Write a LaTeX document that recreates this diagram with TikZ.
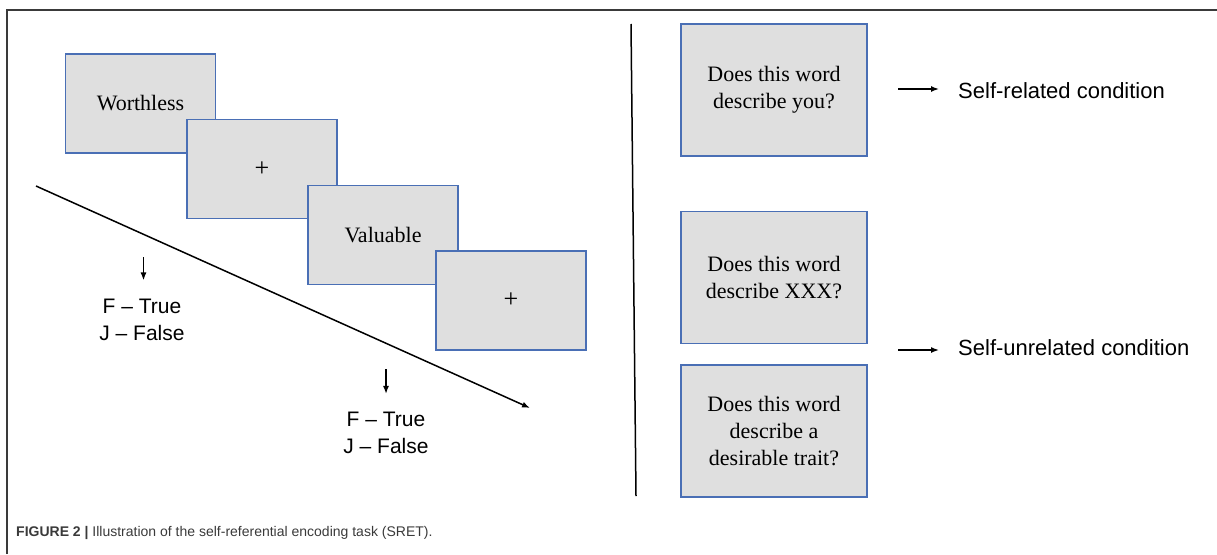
\documentclass[tikz,border=0pt]{standalone}
\usepackage{fontspec}
\setmainfont{Liberation Serif}
\setsansfont{Liberation Sans}
\usetikzlibrary{arrows.meta}
\definecolor{slidegray}{HTML}{DFDFDF}
\definecolor{slideblue}{HTML}{4A6FB5}
\definecolor{framegray}{HTML}{3A3A3A}
\begin{document}
\begin{tikzpicture}[x=1pt, y=-1pt,
    slide/.style={draw=slideblue, fill=slidegray, line width=1.3pt, minimum width=150pt, minimum height=99pt, inner sep=0pt, font=\fontsize{22}{27}\selectfont},
    question/.style={slide, minimum width=186pt, minimum height=132pt, align=center},
    key/.style={font=\sffamily\fontsize{21}{27}\selectfont, align=center, inner sep=0pt},
    cond/.style={font=\sffamily\fontsize{22}{25}\selectfont, inner sep=0pt, anchor=west},
    arr/.style={-{Latex[length=8pt, width=6pt]}, line width=1.5pt}]
    \useasboundingbox (0,0) rectangle (1217,554);
    \draw[framegray, line width=1.2pt] (7,554) -- (7,10) -- (1217,10);

    \node[slide] (w) at (140.5, 103.5) {Worthless};
    \node[slide] (p1) at (262, 169) {\fontsize{26}{27}\selectfont +};
    \node[slide] (v) at (383, 235) {Valuable};
    \node[slide] (p2) at (511, 300.5) {\fontsize{26}{27}\selectfont +};

    \coordinate (t0) at (36, 186);
    \coordinate (t1) at (530, 408);
    \draw[arr] (t0) -- (t1);

    \coordinate (da) at (143.5, 257);
    \coordinate (db) at (386, 369);
    \node[key] (ka) at (142, 319.5) {F -- True\\J -- False};
    \node[key] (kb) at (386, 433) {F -- True\\J -- False};
    \draw[arr, shorten >=18pt] (da) -- (da |- ka.north);
    \draw[arr, shorten >=18pt] (db) -- (db |- kb.north);

    \coordinate (s0) at (631, 24);
    \coordinate (s1) at (636, 496);
    \draw[line width=1.5pt] (s0) -- (s1);

    \node[question] (q1) at (774, 90) {Does this word\\describe you?};
    \node[question] (q2) at (774, 277.5) {Does this word\\describe XXX?};
    \node[question] (q3) at (774, 431) {Does this word\\describe a\\desirable trait?};

    \node[cond] (rel) at (958, 91) {Self-related condition};
    \node[cond] (unrel) at (958, 348) {Self-unrelated condition};
    \coordinate (ra) at (898, 89);
    \coordinate (ua) at (898, 350);
    \draw[arr, shorten >=19pt] (ra) -- (ra -| rel.west);
    \draw[arr, shorten >=19pt] (ua) -- (ua -| unrel.west);

    \node[anchor=west, inner sep=0pt, text=framegray, font=\sffamily\fontsize{14}{16}\selectfont] (cap) at (16, 533)
        {\textbf{FIGURE 2 |} Illustration of the self-referential encoding task (SRET).};
\end{tikzpicture}
\end{document}
